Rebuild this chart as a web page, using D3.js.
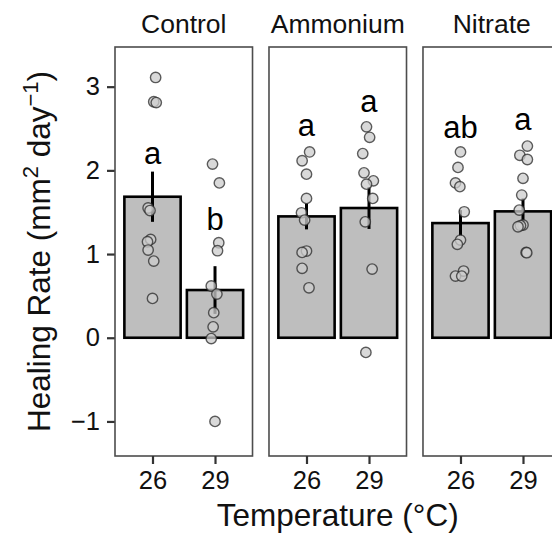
<!DOCTYPE html>
<html><head><meta charset="utf-8">
<script src="https://cdn.jsdelivr.net/npm/d3@7"></script>
<style>
html,body{margin:0;padding:0;background:#fff;}
svg{display:block;font-family:"Liberation Sans",Arial,Helvetica,sans-serif;}
</style></head>
<body>
<svg id="chart" width="552" height="534"></svg>
<script>
// ---- data ----
const treatments = ["Control", "Ammonium", "Nitrate"];
const temperatures = ["26", "29"];
const yTicks = [-1, 0, 1, 2, 3];

// bar means (Control26, Control29, Ammonium26, Ammonium29, Nitrate26, Nitrate29)
const meanValues = [1.685, 0.57, 1.45, 1.55, 1.37, 1.51];
const seValues = [0.30, 0.285, 0.155, 0.25, 0.155, 0.155];
const letters = ["a", "b", "a", "a", "ab", "a"];
const letterY = [2.08, 1.29, 2.41, 2.70, 2.39, 2.48];

// raw observations per group, with horizontal jitter (fraction of category step)
const ctrl26 = [3.11, 2.82, 2.81, 1.55, 1.52, 1.175, 1.147, 1.048, 0.916, 0.47];
const ctrl26J = [0.05, 0.02, 0.06, -0.07, -0.04, -0.03, -0.08, -0.07, 0.02, 0.0];
const ctrl29 = [2.075, 1.85, 1.135, 1.04, 0.618, 0.522, 0.30, 0.13, -0.01, -1.0];
const ctrl29J = [-0.04, 0.07, 0.06, 0.04, -0.06, 0.03, -0.02, -0.03, -0.06, 0.0];
const amm26 = [2.22, 2.115, 1.955, 1.665, 1.493, 1.406, 1.036, 1.02, 0.829, 0.597];
const amm26J = [0.05, -0.07, 0.0, 0.0, -0.08, -0.03, 0.0, -0.07, -0.07, 0.04];
const amm29 = [2.52, 2.395, 2.20, 1.97, 1.875, 1.835, 1.665, 1.385, 0.82, -0.175];
const amm29J = [-0.04, 0.01, -0.1, -0.08, 0.07, -0.04, 0.06, -0.06, 0.05, -0.05];
const nit26 = [2.22, 2.035, 1.85, 1.805, 1.505, 1.167, 1.116, 0.797, 0.737, 0.737];
const nit26J = [0.0, -0.04, -0.08, -0.01, 0.06, 0.0, -0.05, 0.05, -0.08, 0.02];
const nit29 = [2.29, 2.18, 2.13, 1.905, 1.705, 1.525, 1.347, 1.34, 1.326, 1.02, 1.016];
const nit29J = [0.07, -0.05, 0.07, 0.0, -0.02, -0.06, 0.0, -0.04, -0.08, 0.05, 0.06];

const pointSets = [[ctrl26, ctrl26J], [ctrl29, ctrl29J], [amm26, amm26J], [amm29, amm29J], [nit26, nit26J], [nit29, nit29J]];

// ---- build tidy rows ----
const groups = [];
treatments.forEach((t, i) => temperatures.forEach((tp, j) => {
  const k = i * 2 + j;
  groups.push({treat: t, temp: tp, mean: meanValues[k], se: seValues[k], letter: letters[k], ly: letterY[k],
    pts: pointSets[k][0].map((v, m) => ({v: v, j: pointSets[k][1][m]}))});
}));

// ---- layout ----
const svg = d3.select("#chart");
const pTop = 47, pBottom = 456;
const facet = d3.scaleBand().domain(treatments).range([115, 560.5]).paddingInner(0.107).paddingOuter(0);
const pw = facet.bandwidth();
const x = d3.scalePoint().domain(temperatures).range([0, pw]).padding(0.6);
const step = x.step();
const y = d3.scaleLinear().domain([-1.413, 3.474]).range([pBottom, pTop]);

const ink = "#333333";
const tickFont = 25.5;

// y axis
const yAxis = svg.append("g").attr("transform", `translate(${facet("Control")},0)`)
  .call(d3.axisLeft(y).tickValues(yTicks).tickFormat(d3.format("d")).tickSize(8).tickPadding(7));
yAxis.select(".domain").remove();
yAxis.selectAll(".tick line").attr("stroke", ink).attr("stroke-width", 2.2);
yAxis.selectAll(".tick text").attr("font-size", tickFont).attr("fill", "#111").attr("font-family", "Liberation Sans, Arial, sans-serif");

treatments.forEach(t => {
  const g = svg.append("g").attr("transform", `translate(${facet(t)},0)`);
  // strip label
  g.append("text").attr("x", pw / 2).attr("y", 33).attr("text-anchor", "middle")
    .attr("font-size", 26.5).attr("fill", "#111").text(t);
  // panel background
  g.append("rect").attr("x", 0).attr("y", pTop).attr("width", pw).attr("height", pBottom - pTop).attr("fill", "#fff");
  const data = groups.filter(d => d.treat === t);
  // bars
  g.selectAll("rect.bar").data(data).join("rect").attr("class", "bar")
    .attr("x", d => x(d.temp) - step * 0.45).attr("width", step * 0.9)
    .attr("y", d => y(Math.max(0, d.mean))).attr("height", d => Math.abs(y(d.mean) - y(0)))
    .attr("fill", "#bebebe").attr("stroke", "#000").attr("stroke-width", 2.6);
  // error bars
  g.selectAll("line.err").data(data).join("line").attr("class", "err")
    .attr("x1", d => x(d.temp)).attr("x2", d => x(d.temp))
    .attr("y1", d => y(d.mean - d.se)).attr("y2", d => y(d.mean + d.se))
    .attr("stroke", "#000").attr("stroke-width", 3);
  // points
  data.forEach(d => {
    g.selectAll(null).data(d.pts).join("circle")
      .attr("cx", p => x(d.temp) + p.j * step).attr("cy", p => y(p.v)).attr("r", 5.2)
      .attr("fill", "#cccccc").attr("fill-opacity", 0.75)
      .attr("stroke", "#2a2a2a").attr("stroke-opacity", 0.75).attr("stroke-width", 1.4);
  });
  // letters
  g.selectAll("text.let").data(data).join("text").attr("class", "let")
    .attr("x", d => x(d.temp)).attr("y", d => y(d.ly)).attr("text-anchor", "middle")
    .attr("font-size", 31).attr("fill", "#000").text(d => d.letter);
  // border
  g.append("rect").attr("x", 0).attr("y", pTop).attr("width", pw).attr("height", pBottom - pTop)
    .attr("fill", "none").attr("stroke", "#4d4d4d").attr("stroke-width", 1.6);
  // x axis
  const xa = g.append("g").attr("transform", `translate(0,${pBottom})`)
    .call(d3.axisBottom(x).tickSize(8).tickPadding(7));
  xa.select(".domain").remove();
  xa.selectAll(".tick line").attr("stroke", ink).attr("stroke-width", 2.2);
  xa.selectAll(".tick text").attr("font-size", tickFont).attr("fill", "#111").attr("font-family", "Liberation Sans, Arial, sans-serif");
});

// axis titles
svg.append("text").attr("x", (115 + 560.5) / 2).attr("y", 526).attr("text-anchor", "middle")
  .attr("font-size", 31.5).attr("fill", "#111").text("Temperature (°C)");

const yt = svg.append("text").attr("transform", `translate(50,${(pTop + pBottom) / 2}) rotate(-90)`)
  .attr("text-anchor", "middle").attr("font-size", 31.5).attr("fill", "#111");
yt.append("tspan").text("Healing Rate (mm");
yt.append("tspan").attr("font-size", 22).attr("dy", -12).text("2");
yt.append("tspan").attr("dy", 12).text(" day");
yt.append("tspan").attr("font-size", 22).attr("dy", -12).text("−1");
yt.append("tspan").attr("dy", 12).text(")");
</script>
</body></html>
